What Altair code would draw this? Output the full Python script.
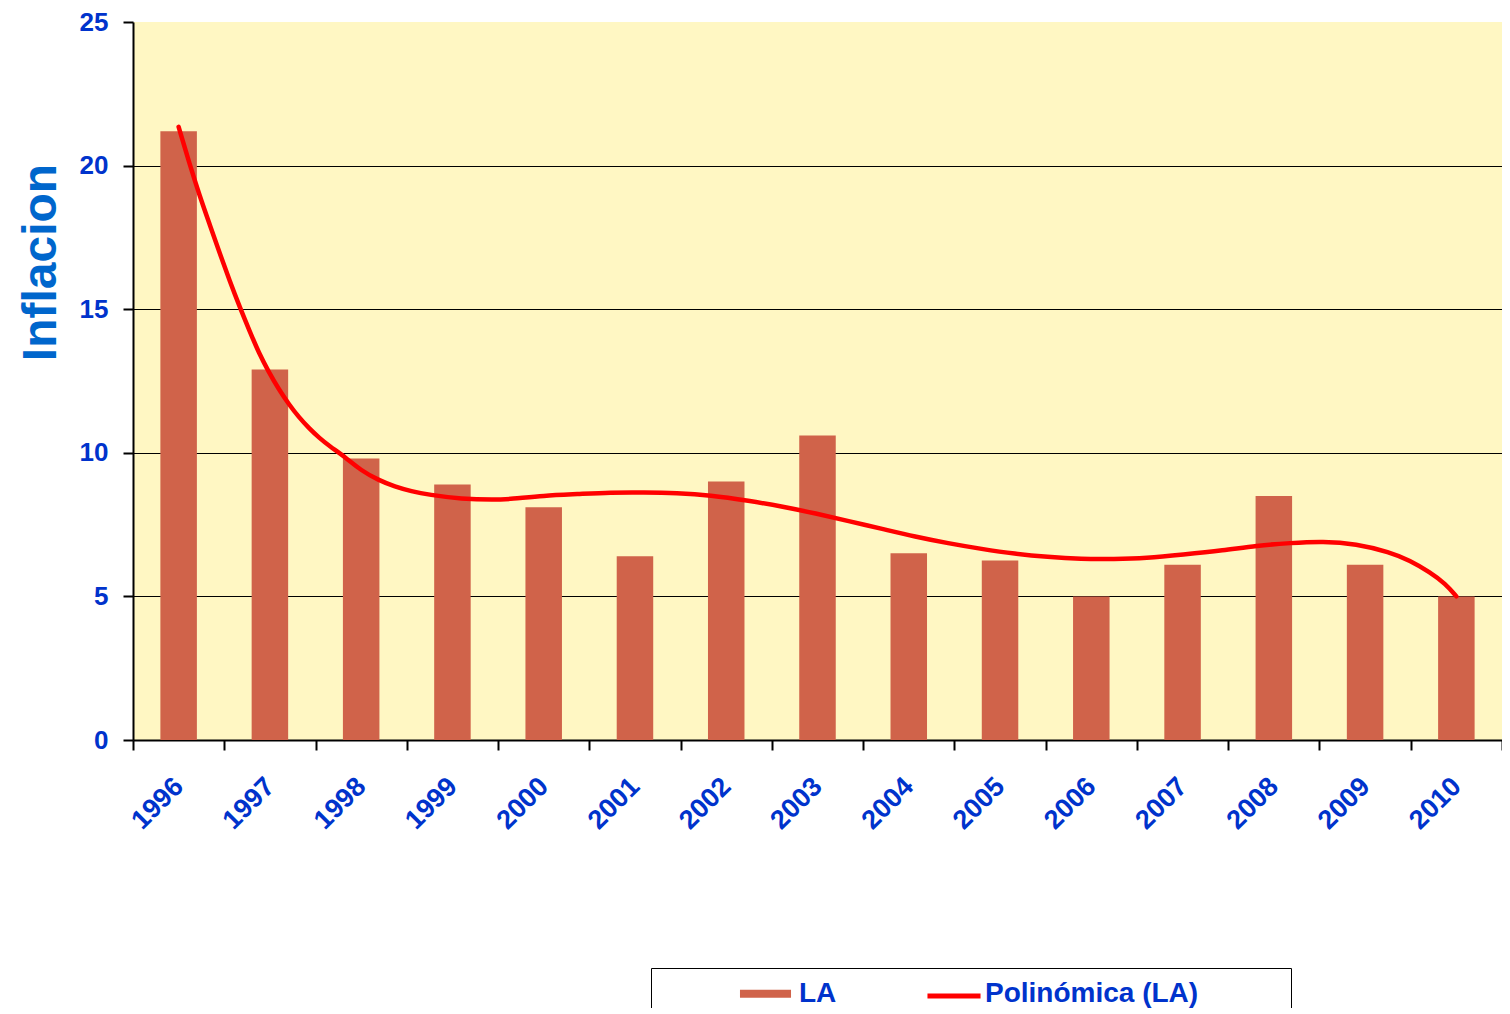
import altair as alt
import pandas as pd

# ---- data ----
years = ["1996", "1997", "1998", "1999", "2000", "2001", "2002", "2003",
         "2004", "2005", "2006", "2007", "2008", "2009", "2010"]
la_values = [21.2, 12.9, 9.8, 8.9, 8.1, 6.4, 9.0, 10.6, 6.5, 6.25, 5.0, 6.1, 8.5, 6.1, 5.0]

# polynomial trend line ("Polinómica (LA)")
trend_x = [1996.0, 1996.12, 1996.23, 1996.34, 1996.45, 1996.56, 1996.67, 1996.78,
           1996.88, 1996.99, 1997.10, 1997.21, 1997.32, 1997.43, 1997.54, 1997.65,
           1997.83, 1998.0, 1998.19, 1998.37, 1998.55, 1998.74, 1999.1, 1999.46,
           1999.64, 2000.0, 2000.37, 2000.73, 2001.1, 2001.46, 2001.82, 2002.25,
           2002.62, 2002.98, 2003.34, 2003.71, 2004.07, 2004.43, 2004.8, 2005.16,
           2005.52, 2005.89, 2006.25, 2006.6, 2007.0, 2007.45, 2007.81, 2008.18,
           2008.54, 2008.9, 2009.27, 2009.49, 2009.71, 2009.88, 2010.0]
trend_y = [21.35, 20.05, 18.95, 17.95, 16.95, 15.98, 15.07, 14.22,
           13.47, 12.8, 12.2, 11.68, 11.23, 10.85, 10.52, 10.24,
           9.84, 9.38, 9.05, 8.82, 8.66, 8.54, 8.39, 8.36,
           8.39, 8.51, 8.56, 8.62, 8.62, 8.6, 8.53, 8.33,
           8.125, 7.89, 7.62, 7.35, 7.08, 6.85, 6.65, 6.48,
           6.37, 6.3, 6.3, 6.33, 6.45, 6.6, 6.77, 6.86,
           6.92, 6.83, 6.54, 6.25, 5.84, 5.44, 5.0]

bar_name = "LA"
trend_name = "Polinómica (LA)"
bar_color = "#D0634A"
trend_color = "#FF0000"
y_ticks = [0, 5, 10, 15, 20, 25]

bars_df = pd.DataFrame({"year": years, "value": la_values, "serie": bar_name})
trend_df = pd.DataFrame({"t": trend_x, "value": trend_y, "serie": trend_name})

FONT = "Liberation Sans"
BLUE = "#0033CC"

y_scale = alt.Scale(domain=[0, 25], nice=False, zero=True)

# legend A: box, bar swatch and both labels
bar_legend = alt.Legend(
    title=".",
    titleOrient="right",
    titleFontSize=8,
    titleOpacity=0,
    titlePadding=79,
    orient="none",
    legendX=518,
    legendY=946,
    direction="horizontal",
    labelFont=FONT,
    labelFontSize=28,
    labelFontWeight="bold",
    labelColor=BLUE,
    labelLimit=800,
    labelOffset=19,
    symbolType="M-1.76,-0.27H1.76V0.27H-1.76Z",
    symbolSize=841,
    symbolOffset=89,
    symbolStrokeWidth=0,
    symbolOpacity=1,
    columnPadding=11,
    padding=11,
    strokeColor="black",
)

# legend B: only the red line swatch
trend_legend = alt.Legend(
    title=None,
    orient="none",
    legendX=804,
    legendY=957,
    direction="horizontal",
    labelExpr="''",
    labelFontSize=28,
    labelOffset=0,
    symbolType="M-1.83,0H1.83",
    symbolSize=841,
    symbolStrokeWidth=5,
    symbolFillColor="transparent",
    symbolOpacity=1,
    symbolOffset=0,
    padding=0,
)

x_axis = alt.Axis(
    labelAngle=315,
    labelAlign="right",
    labelBaseline="middle",
    labelFont=FONT,
    labelFontSize=27,
    labelFontWeight="bold",
    labelColor=BLUE,
    labelPadding=32,
    tickSize=10,
    tickWidth=2,
    tickColor="black",
    domainColor="black",
    domainWidth=2,
    tickBand="extent",
    grid=False,
    title=None,
)

y_axis = alt.Axis(
    values=y_ticks,
    labelFont=FONT,
    labelFontSize=26,
    labelFontWeight="bold",
    labelColor=BLUE,
    labelPadding=15,
    tickSize=10,
    tickWidth=2,
    tickColor="black",
    domainColor="black",
    domainWidth=2,
    grid=True,
    gridColor="black",
    gridWidth=1,
    gridOpacity={"condition": {"test": "datum.value >= 25", "value": 0}, "value": 1},
    title="Inflacion",
    titleFont=FONT,
    titleFontSize=48,
    titleFontWeight="bold",
    titleColor="#0066CC",
    titleAngle=270,
    titleAlign="center",
    titleBaseline="alphabetic",
    titleX=-78,
    titleY=240,
)

bars = alt.Chart(bars_df).mark_bar(opacity=1, width=alt.RelativeBandSize(0.4)).encode(
    x=alt.X("year:O", scale=alt.Scale(type="band", paddingInner=0, paddingOuter=0), axis=x_axis),
    y=alt.Y("value:Q", scale=y_scale, axis=y_axis),
    fill=alt.Fill("serie:N",
                  scale=alt.Scale(domain=[bar_name, trend_name], range=[bar_color, "transparent"]),
                  legend=bar_legend),
)

trend = alt.Chart(trend_df).mark_line(interpolate="basis", strokeWidth=4.5, strokeCap="round").encode(
    x=alt.X("t:Q", scale=alt.Scale(domain=[1995.5, 2010.5], nice=False, zero=False), axis=None),
    y=alt.Y("value:Q", scale=y_scale),
    stroke=alt.Stroke("serie:N", scale=alt.Scale(domain=[trend_name], range=[trend_color]),
                      legend=trend_legend),
)

chart = (
    alt.layer(bars, trend)
    .resolve_scale(x="independent")
    .properties(
        width=1369,
        height=718,
        padding={"left": 125, "top": 14, "right": 0, "bottom": 268},
        autosize=alt.AutoSizeParams(type="none"),
        background="white",
    )
    .configure_view(fill="#FFF7C3", stroke=None)
)

chart.save("out.html", embed_options={"renderer": "svg", "actions": False})
